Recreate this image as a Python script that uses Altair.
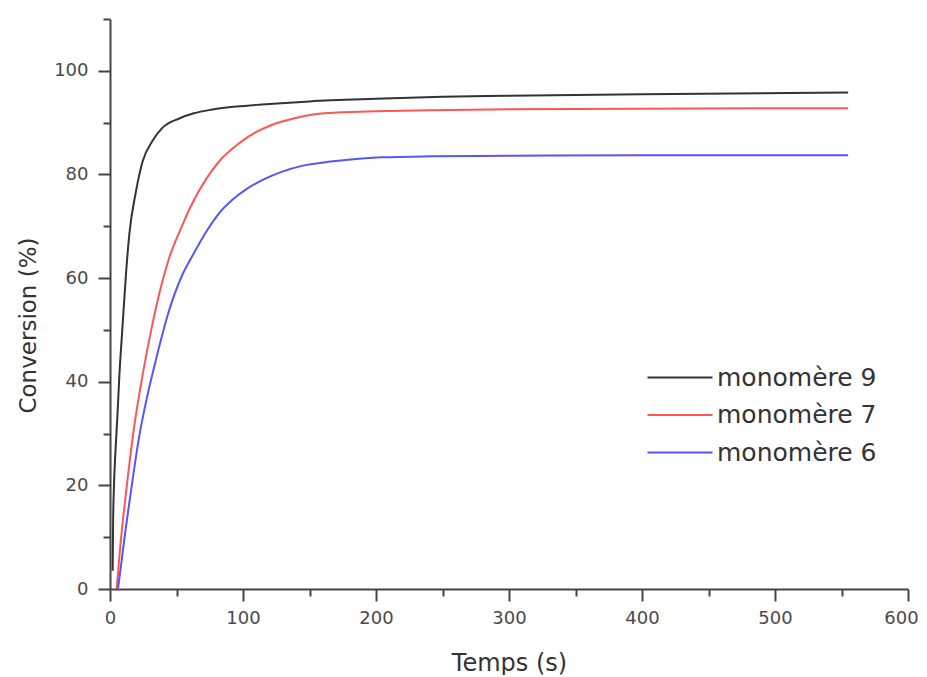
import altair as alt
import pandas as pd

series = ["monomère 9", "monomère 7", "monomère 6"]
colors = ["#333333", "#ff5555", "#5555ff"]

t9 = [2, 2.3, 3, 4, 5.5, 7, 9.5, 12, 14.5, 19.5, 24.5, 32, 39, 52, 63, 76, 95, 114, 150, 200, 250, 300, 400, 555]
v9 = [3.5, 12, 20, 26, 33, 41, 51, 60.7, 68.4, 76.7, 82.5, 86.5, 88.9, 90.8, 91.8, 92.5, 93.1, 93.5, 94.1, 94.6, 95.0, 95.2, 95.5, 95.8]

t7 = [5, 8, 12, 18, 25, 31, 38, 44, 54, 62, 72, 82, 97, 110, 122, 138, 154, 175, 200, 241, 300, 400, 555]
v7 = [0, 9, 18.5, 31, 42, 50, 58, 63.5, 70, 74.5, 79, 82.5, 86, 88.2, 89.6, 90.8, 91.6, 92, 92.2, 92.4, 92.6, 92.7, 92.8]

t6 = [6, 9, 12, 15, 22, 28, 34.5, 44, 54, 62, 72, 82, 92, 104, 116, 129, 145, 166, 185, 204, 241, 300, 400, 555]
v6 = [0, 6, 12, 17.5, 29.5, 37.2, 44.2, 53.4, 60.4, 64.3, 68.8, 72.5, 75.1, 77.4, 79.1, 80.5, 81.7, 82.5, 83, 83.3, 83.5, 83.6, 83.7, 83.7]

x_ticks = list(range(0, 601, 50))
y_ticks = list(range(0, 111, 10))

rows = []
for name, ts, vs in [(series[0], t9, v9), (series[1], t7, v7), (series[2], t6, v6)]:
    for t, v in zip(ts, vs):
        rows.append({"serie": name, "t": t, "v": v})
df = pd.DataFrame(rows)

FONT = "DejaVu Sans"
AX = "#444444"

chart = alt.Chart(df).mark_line(strokeWidth=2, interpolate="monotone").encode(
    x=alt.X("t:Q", scale=alt.Scale(domain=[0, 600], nice=False, zero=False),
            axis=alt.Axis(values=x_ticks, format="d", labelFlush=False, labelOverlap=False,
                          labelExpr="datum.value % 100 == 0 ? datum.label : ''",
                          labelOffset={"condition": {"test": "datum.value == 600", "value": -7}, "value": 0},
                          tickSize={"condition": {"test": "datum.value % 100 == 0", "value": 12}, "value": 7},
                          labelPadding=8, labelFont=FONT, labelFontSize=18, labelColor="#4a4a4a",
                          domainColor=AX, domainWidth=2, tickColor=AX, tickWidth=2,
                          grid=False, title="Temps (s)", titleFont=FONT, titleFontSize=24,
                          titleFontWeight="normal", titleColor="#333333",
                          titleBaseline="alphabetic", titleX=399, titleY=81)),
    y=alt.Y("v:Q", scale=alt.Scale(domain=[0, 110], nice=False),
            axis=alt.Axis(values=y_ticks, format="d", labelFlush=False, labelOverlap=False,
                          labelExpr="datum.value % 20 == 0 ? datum.label : ''",
                          tickSize={"condition": {"test": "datum.value % 20 == 0", "value": 12}, "value": 7},
                          labelPadding=10, labelFont=FONT, labelFontSize=18, labelColor="#4a4a4a",
                          domainColor=AX, domainWidth=2, tickColor=AX, tickWidth=2,
                          grid=False, title="Conversion (%)", titleFont=FONT, titleFontSize=23,
                          titleFontWeight="normal", titleColor="#333333",
                          titleBaseline="alphabetic", titleAngle=270, titleX=-75, titleY=306)),
    color=alt.Color("serie:N", scale=alt.Scale(domain=series, range=colors),
                    legend=alt.Legend(orient="none", legendX=535, legendY=346, title=None,
                                      symbolType="M-1,0L5.5,0", symbolSize=400, symbolStrokeWidth=2,
                                      labelFont=FONT, labelFontSize=25, labelColor="#333333",
                                      labelOffset=47, rowPadding=11.5, padding=0)),
    order=alt.Order("t:Q"),
).properties(
    width=798, height=570,
    autosize=alt.AutoSizeParams(type="none"),
    padding={"left": 102, "top": 11, "right": 10, "bottom": 86},
).configure_view(strokeOpacity=0)

chart.save("out.html", embed_options={"renderer": "svg", "actions": False})
